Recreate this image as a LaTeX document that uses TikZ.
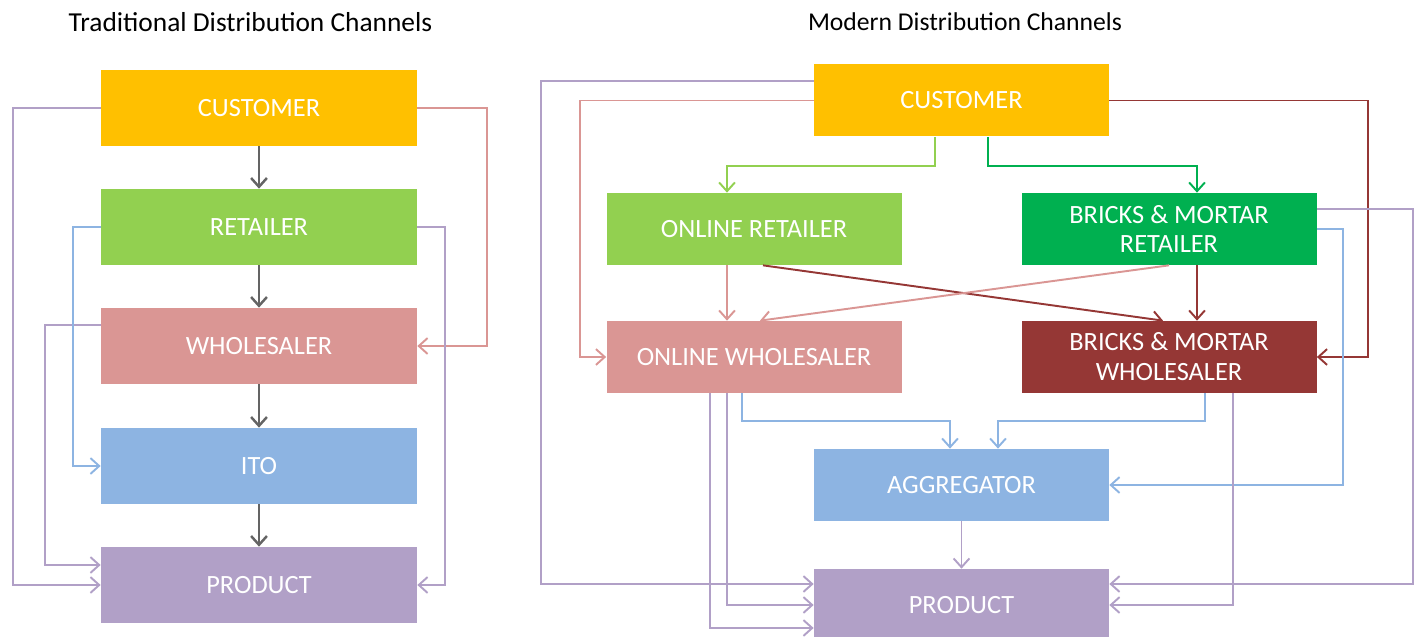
\documentclass[tikz,border=0pt]{standalone}
\usepackage{fontspec}
\setmainfont{Carlito}
\usetikzlibrary{arrows.meta}
\definecolor{custorange}{RGB}{255,192,0}
\definecolor{retgreen}{RGB}{146,208,80}
\definecolor{bmgreen}{RGB}{0,176,80}
\definecolor{wholepink}{RGB}{218,150,148}
\definecolor{bmred}{RGB}{149,55,53}
\definecolor{aggblue}{RGB}{141,180,226}
\definecolor{prodpurple}{RGB}{177,160,199}
\definecolor{flowgray}{RGB}{100,100,100}

\begin{document}
\begin{tikzpicture}[
    chan/.style={minimum width=6.32cm,minimum height=1.52cm,inner sep=0pt,text=white,
      align=center,font=\fontsize{15}{17}\selectfont},
    mchan/.style={chan,minimum width=5.9cm,minimum height=1.44cm},
    link/.style={line width=1.1pt,-{Straight Barb[length=5pt,width=9pt]}},
    heading/.style={font=\fontsize{15}{17}\selectfont}]
      %\draw[step=1cm,gray,very thin] (0,0) grid (28,12);
      \useasboundingbox (0,0) rectangle (28.42,12.72);

      % traditional channels
      \node[heading,font=\fontsize{15.6}{17}\selectfont] at (5.01,12.28) {Traditional Distribution Channels};
      \node[chan,fill=custorange] (tcust) at (5.18,10.56) {CUSTOMER};
      \node[chan,fill=retgreen] (tret) at (5.18,8.18) {RETAILER};
      \node[chan,fill=wholepink] (twhole) at (5.18,5.80) {WHOLESALER};
      \node[chan,fill=aggblue] (tito) at (5.18,3.40) {ITO};
      \node[chan,fill=prodpurple] (tprod) at (5.18,1.02) {PRODUCT};
      \foreach \a/\b in {tcust/tret,tret/twhole,twhole/tito,tito/tprod}
        \draw[link,flowgray,line width=1.4pt] (\a) -- (\b);
      \draw[link,prodpurple] (tcust.west) -- ++(-1.76,0) |- (tprod.west);
      \draw[link,prodpurple] ([yshift=.42cm]twhole.west) -- ++(-1.12,0) |- ([yshift=.4cm]tprod.west);
      \draw[link,aggblue] (tret.west) -- ++(-.56,0) |- (tito.west);
      \draw[link,wholepink] (tcust.east) -- ++(1.4,0) |- (twhole.east);
      \draw[link,prodpurple] (tret.east) -- ++(.56,0) |- (tprod.east);

      % modern channels
      \node[heading,font=\fontsize{14.6}{17}\selectfont] at (19.3,12.28) {Modern Distribution Channels};
      \node[mchan,fill=custorange] (mcust) at (19.23,10.71) {CUSTOMER};
      \node[mchan,fill=retgreen] (onret) at (15.08,8.14) {ONLINE RETAILER};
      \node[mchan,fill=bmgreen] (bmret) at (23.38,8.14) {BRICKS \& MORTAR\\RETAILER};
      \node[mchan,fill=wholepink] (onwhole) at (15.08,5.58) {ONLINE WHOLESALER};
      \node[mchan,fill=bmred] (bmwhole) at (23.38,5.58) {BRICKS \& MORTAR\\WHOLESALER};
      \node[mchan,fill=aggblue] (agg) at (19.23,3.02) {AGGREGATOR};
      \node[mchan,fill=prodpurple] (mprod) at (19.23,0.62) {PRODUCT};
      \draw[link,prodpurple] ([yshift=.39cm]mcust.west) -- ++(-5.46,0) |- ([yshift=.42cm]mprod.west);
      \draw[link,wholepink] (mcust.west) -- ++(-4.68,0) |- (onwhole.west);
      \draw[link,retgreen] ([xshift=-.53cm]mcust.south) -- ++(0,-.58) -| ([xshift=-.54cm]onret.north);
      \draw[link,bmgreen] ([xshift=.53cm]mcust.south) -- ++(0,-.58) -| ([xshift=.56cm]bmret.north);
      \draw[link,bmred] (mcust.east) -- ++(5.18,0) |- (bmwhole.east);
      \draw[link,wholepink] ([xshift=-.54cm]onret.south) -- ([xshift=-.54cm]onwhole.north);
      \draw[link,bmred] ([xshift=.18cm]onret.south) -- ([xshift=-.12cm]bmwhole.north);
      \draw[link,wholepink] (bmret.south) -- ([xshift=.12cm]onwhole.north);
      \draw[link,bmred] ([xshift=.56cm]bmret.south) -- ([xshift=.56cm]bmwhole.north);
      \draw[link,prodpurple] ([yshift=.4cm]bmret.east) -- ++(1.92,0) |- ([yshift=.42cm]mprod.east);
      \draw[link,aggblue] (bmret.east) -- ++(.52,0) |- (agg.east);
      \draw[link,aggblue] ([xshift=-.24cm]onwhole.south) -- ++(0,-.56) -| ([xshift=-.23cm]agg.north);
      \draw[link,prodpurple] ([xshift=-.54cm]onwhole.south) |- (mprod.west);
      \draw[link,prodpurple] ([xshift=-.88cm]onwhole.south) |- ([yshift=-.46cm]mprod.west);
      \draw[link,aggblue] ([xshift=.72cm]bmwhole.south) -- ++(0,-.56) -| ([xshift=.73cm]agg.north);
      \draw[link,prodpurple] ([xshift=1.28cm]bmwhole.south) |- (mprod.east);
      \draw[link,prodpurple] (agg) -- (mprod);
\end{tikzpicture}
\end{document}
